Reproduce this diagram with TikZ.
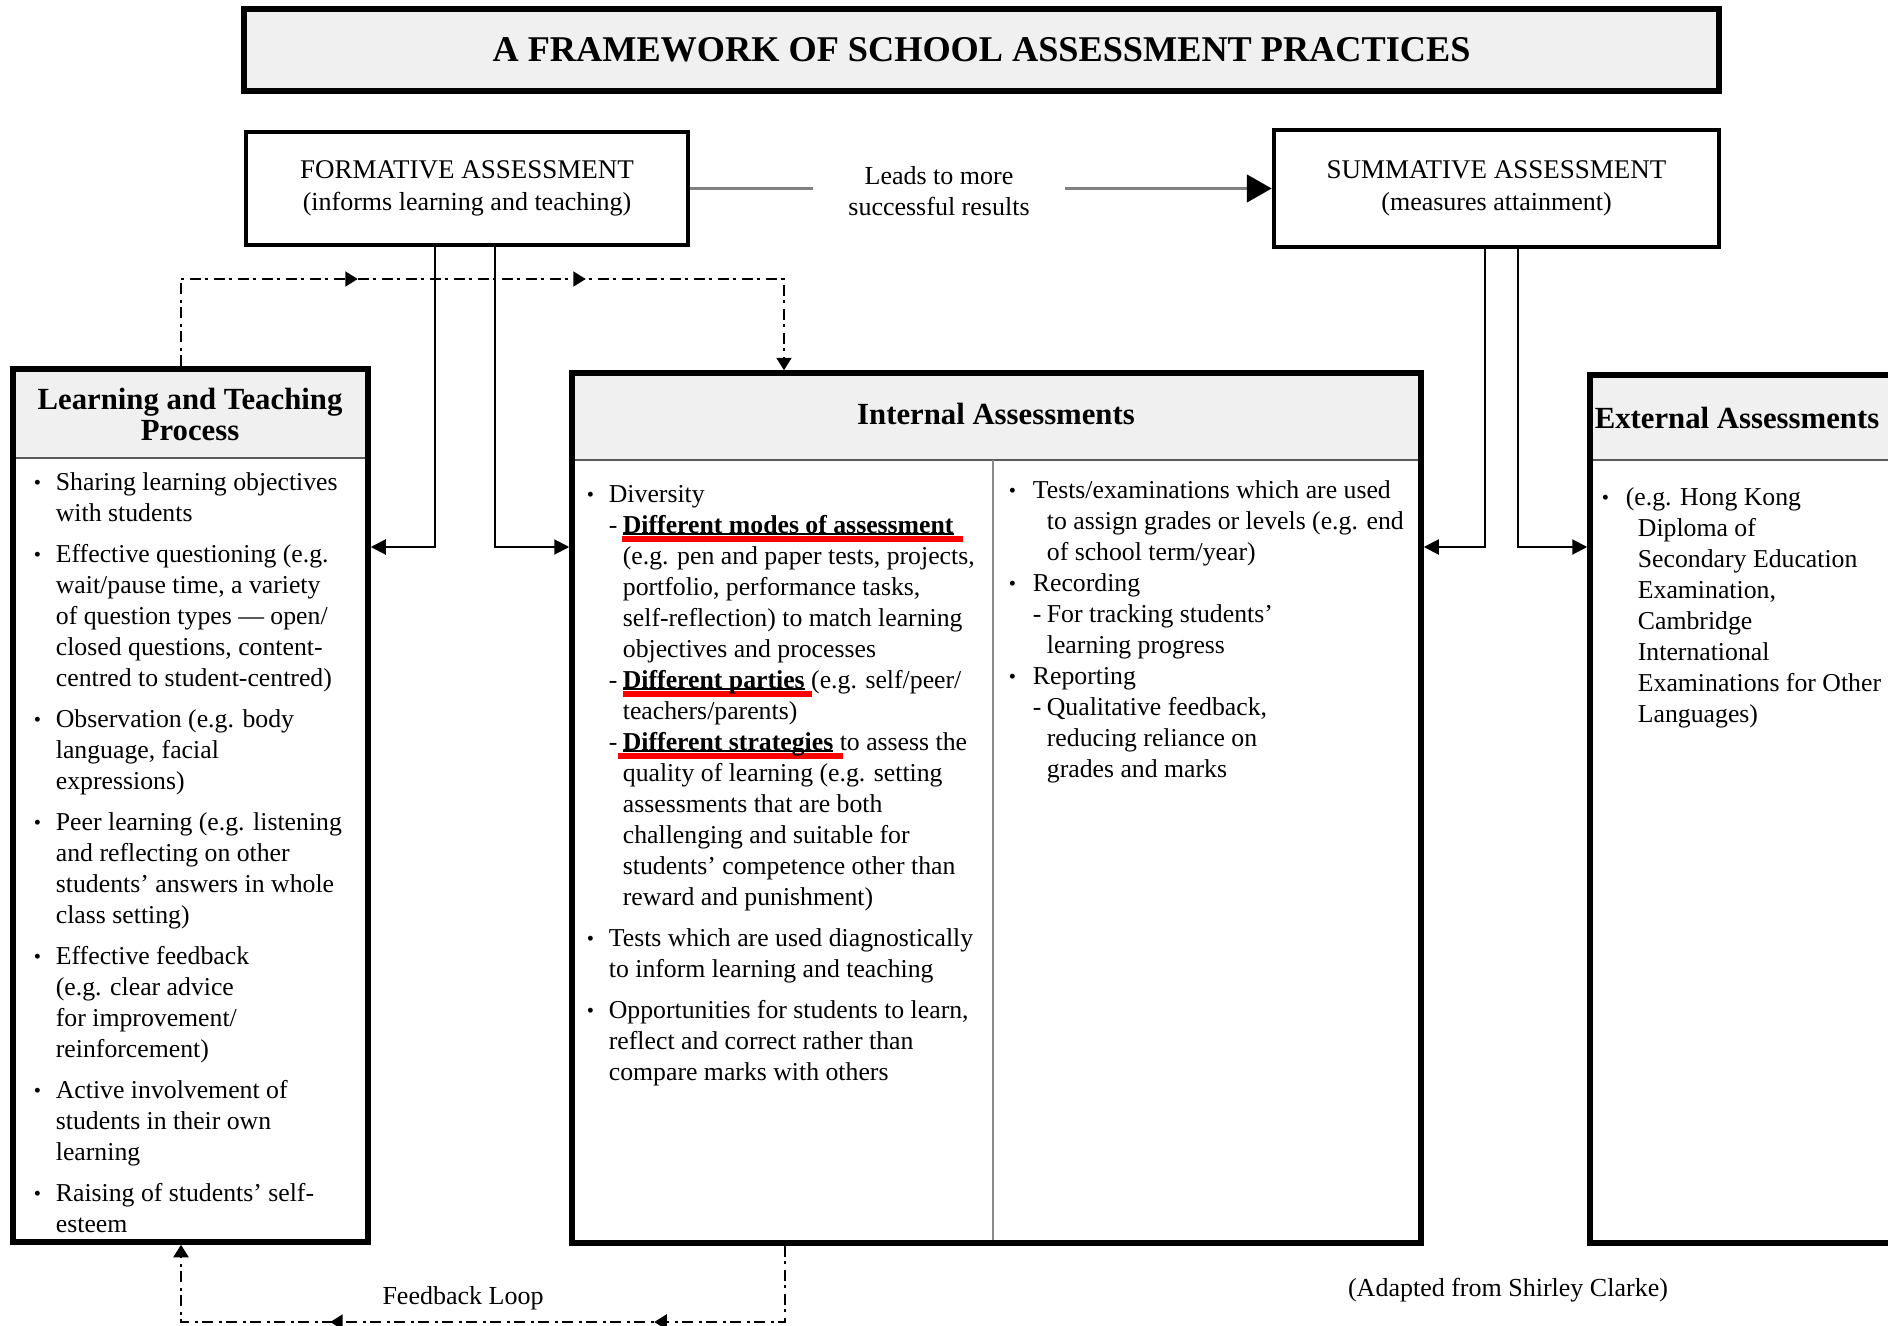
\documentclass[tikz,border=0pt]{standalone}
\usepackage{fontspec}
\setmainfont{Liberation Serif}
\usepackage{graphicx}
\usetikzlibrary{arrows.meta,fit,decorations.markings}
\pgfdeclarelayer{background}
\pgfsetlayers{background,main}
\definecolor{hdr}{HTML}{F0F0F0}
\definecolor{sepc}{HTML}{5A5A5A}
\definecolor{divc}{HTML}{8A8A8A}
\definecolor{leadc}{HTML}{808080}
\newlength\ba
\newlength\bc
\newcommand\bul{\makebox[\ba][l]{\raisebox{0.1ex}{\scalebox{0.8}{\textbullet}}}}
\newcommand\indA{\hspace*{\ba}}
\newcommand\indB{\hspace*{\bc}}
\newcommand\dsh{\makebox[5.6pt][l]{-}}
\newcommand\redmk[3]{\setbox0=\hbox{\bfseries #2}%
  \rlap{\hspace*{-#1}\textcolor{red}{\rule[-3.4pt]{\dimexpr\wd0+#1+#3\relax}{2.4pt}}}%
  \rlap{\rule[-0.6pt]{\wd0}{0.6pt}}%
  \box0\relax}
\begin{document}
\begin{tikzpicture}[x=0.4pt,y=-0.4pt,
  tx/.style={inner sep=0pt, align=left, anchor=north west, font=\fontsize{10.3}{12.4}\selectfont},
  thickbox/.style={draw, line width=2.2pt, inner sep=0pt},
  midbox/.style={draw, line width=1.8pt, inner sep=0pt},
  midtx/.style={inner sep=0pt, align=center, font=\fontsize{10.8}{13}\selectfont},
  hd/.style={inner sep=0pt, align=center, font=\bfseries\fontsize{12.3}{12.4}\selectfont},
  conn/.style={line width=0.8pt, -{Triangle[length=6pt,width=6pt]}},
  dd/.style={line width=0.8pt, dash pattern=on 4.4pt off 1.8pt on 1.2pt off 2.2pt},
  ddtip/.style={-{Triangle[length=5pt,width=6pt]}},
  sepl/.style={draw=sepc, line width=0.9pt},
  lead/.style={draw=leadc, line width=1.2pt},
]
\useasboundingbox (0,0) rectangle (1888,1326);

% boxes
\node[thickbox, fill=hdr, fit={(244,9) (1719,91)}] (title) {};
\node[inner sep=0pt, font=\bfseries\fontsize{14.5}{17}\selectfont] (titletx) at (title.center) {A FRAMEWORK OF SCHOOL ASSESSMENT PRACTICES};
\node[midbox, fit={(246,132) (688,245)}] (form) {};
\node[midtx] (formtx) at (form.center) {FORMATIVE ASSESSMENT\\{\fontsize{10.4}{13}\selectfont(informs learning and teaching)}};
\node[midbox, fit={(1274,130) (1719,247)}] (summ) {};
\node[midtx] (summtx) at (summ.center) {SUMMATIVE ASSESSMENT\\{\fontsize{10.4}{13}\selectfont(measures attainment)}};
\node[thickbox, fit={(13,369) (368,1242)}] (lt) {};
\node[thickbox, fit={(572,373) (1421,1243)}] (ia) {};
\node[thickbox, fit={(1590,375) (1895,1243)}] (ea) {};

\begin{pgfonlayer}{background}
\fill[hdr] (lt.north west) rectangle (lt.east |- 0,458);
\fill[hdr] (ia.north west) rectangle (ia.east |- 0,460);
\fill[hdr] (ea.north west) rectangle (ea.east |- 0,460);
\draw[sepl] (lt.west |- 0,458) -- (lt.east |- 0,458);
\draw[sepl] (ia.west |- 0,460) -- (ia.east |- 0,460);
\draw[sepl] (ea.west |- 0,460) -- (ea.east |- 0,460);
\draw[draw=divc, line width=0.9pt] (993,460) -- (ia.south -| 993,0);
\end{pgfonlayer}

% headers
\node[hd] (lthd) at (190,414) {Learning and Teaching\\Process};
\node[hd] (iahd) at (996,414) {Internal Assessments};
\node[hd] (eahd) at (1737,418) {External Assessments};

% leads label and arrow
\node[inner ysep=0pt, inner xsep=14pt, align=center, font=\fontsize{10.4}{12.4}\selectfont] (leads) at (939,191) {Leads to more\\successful results};
\draw[lead] (form.east) -- (form.east -| leads.west);
\draw[lead, -{Triangle[length=10pt,width=11pt,color=black]}] (summ.west -| leads.east) -- (summ.west);

% solid connectors
\coordinate (f1) at (435,547);
\coordinate (f2) at (495,547);
\coordinate (s1) at (1485,547);
\coordinate (s2) at (1518,547);
\draw[conn] (form.south -| f1) |- (lt.east |- f1);
\draw[conn] (form.south -| f2) |- (ia.west |- f2);
\draw[conn] (summ.south -| s1) |- (ia.east |- s1);
\draw[conn] (summ.south -| s2) |- (ea.west |- s2);

% dash-dot loops
\coordinate (d1) at (181,279);
\coordinate (d2) at (784,279);
\draw[dd, ddtip, postaction={decorate}, decoration={markings,
   mark=at position 105.6pt with {\arrow{Triangle[length=5pt,width=6pt]}},
   mark=at position 196.8pt with {\arrow{Triangle[length=5pt,width=6pt]}}}]
   (lt.north -| d1) -- (d1) -- (d2) -- (ia.north -| d2);
\coordinate (b1) at (785,1322);
\coordinate (b2) at (181,1322);
\draw[dd, ddtip, postaction={decorate}, decoration={markings,
   mark=at position 82.8pt with {\arrow{Triangle[length=5pt,width=6pt]}},
   mark=at position 212.4pt with {\arrow{Triangle[length=5pt,width=6pt]}}}]
   (ia.south -| b1) -- (b1) -- (b2) -- (lt.south -| b2);
\node[inner sep=0pt, font=\fontsize{10.4}{12.4}\selectfont] (fbl) at (463,1298) {Feedback Loop};
\node[inner sep=0pt, font=\fontsize{10.4}{12.4}\selectfont] (src) at (1508,1290) {(Adapted from Shirley Clarke)};

% learning and teaching list
\setlength\ba{8.8pt}
\node[tx] (ltx) at (33.4,468) {\strut\bul Sharing learning objectives\\
\indA with students\\[4pt]
\bul Effective questioning (e.g.\\
\indA wait/pause time, a variety\\
\indA of question types — open/\\
\indA closed questions, content-\\
\indA centred to student-centred)\\[4pt]
\bul Observation (e.g. body\\
\indA language, facial\\
\indA expressions)\\[4pt]
\bul Peer learning (e.g. listening\\
\indA and reflecting on other\\
\indA students’ answers in whole\\
\indA class setting)\\[4pt]
\bul Effective feedback\\
\indA (e.g. clear advice\\
\indA for improvement/\\
\indA reinforcement)\\[4pt]
\bul Active involvement of\\
\indA students in their own\\
\indA learning\\[4pt]
\bul Raising of students’ self-\\
\indA esteem};

% internal left column
\setlength\bc{14.4pt}
\node[tx] (iax) at (586.4,480) {\strut\bul Diversity\\
\indA\dsh\redmk{0.4pt}{Different modes of assessment}{3.6pt}\\
\indB (e.g. pen and paper tests, projects,\\
\indB portfolio, performance tasks,\\
\indB self-reflection) to match learning\\
\indB objectives and processes\\
\indA\dsh\redmk{0pt}{Different parties}{3pt} (e.g. self/peer/\\
\indB teachers/parents)\\
\indA\dsh\redmk{2pt}{Different strategies}{4pt} to assess the\\
\indB quality of learning (e.g. setting\\
\indB assessments that are both\\
\indB challenging and suitable for\\
\indB students’ competence other than\\
\indB reward and punishment)\\[4pt]
\bul Tests which are used diagnostically\\
\indA to inform learning and teaching\\[4pt]
\bul Opportunities for students to learn,\\
\indA reflect and correct rather than\\
\indA compare marks with others};

% internal right column
\setlength\ba{9.6pt}
\setlength\bc{15.2pt}
\node[tx] (ibx) at (1008.4,476) {\strut\bul Tests/examinations which are used\\
\indB to assign grades or levels (e.g. end\\
\indB of school term/year)\\
\bul Recording\\
\indA\dsh For tracking students’\\
\indB learning progress\\
\bul Reporting\\
\indA\dsh Qualitative feedback,\\
\indB reducing reliance on\\
\indB grades and marks};

% external
\setlength\ba{9.6pt}
\setlength\bc{14.4pt}
\node[tx] (eax) at (1601.4,483) {\strut\bul (e.g. Hong Kong\\
\indB Diploma of\\
\indB Secondary Education\\
\indB Examination,\\
\indB Cambridge\\
\indB International\\
\indB Examinations for Other\\
\indB Languages)};
\end{tikzpicture}
\end{document}
